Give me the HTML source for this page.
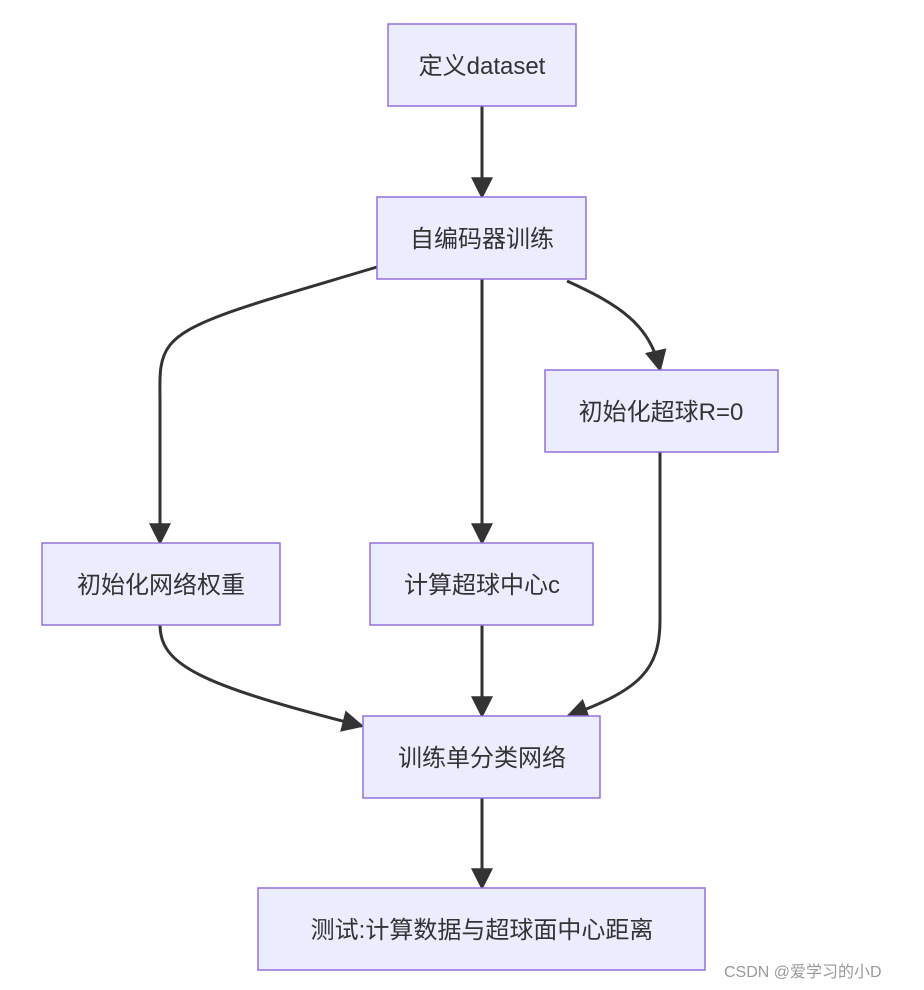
<!DOCTYPE html>
<html><head><meta charset="utf-8"><style>
body{margin:0;background:#fff;width:924px;height:990px;overflow:hidden}
svg{display:block}
text{font-family:"Liberation Sans","Noto Sans CJK SC",sans-serif;fill:#333;font-size:24px}
rect{fill:#ECECFF;stroke:#9370DB;stroke-width:1.5}
path.e{fill:none;stroke:#333;stroke-width:3}
</style></head><body>
<svg width="924" height="990" viewBox="0 0 924 990">
<defs><marker id="a" viewBox="0 0 10 10" refX="9" refY="5" markerWidth="7" markerHeight="7" markerUnits="userSpaceOnUse" orient="auto"><path d="M0,0L10,5L0,10z" fill="#333"/></marker>
<marker id="b" viewBox="0 0 10 10" refX="9" refY="5" markerUnits="userSpaceOnUse" markerWidth="22" markerHeight="22" orient="auto"><path d="M0,0L10,5L0,10z" fill="#333"/></marker></defs>
<path class="e" marker-end="url(#b)" d="M482,106L482,197"/>
<path class="e" marker-end="url(#b)" d="M377,267C250,305 190,320 170,345C158,360 160,380 160,400L160,543"/>
<path class="e" marker-end="url(#b)" d="M482,279L482,543"/>
<path class="e" marker-end="url(#b)" d="M567,281C620,305 650,325 660,370"/>
<path class="e" marker-end="url(#b)" d="M660,452L660,620C660,670 640,690 568,716"/>
<path class="e" marker-end="url(#b)" d="M160,625C160,665 200,685 362,726"/>
<path class="e" marker-end="url(#b)" d="M482,625L482,716"/>
<path class="e" marker-end="url(#b)" d="M482,798L482,888"/>
<rect x="388" y="24" width="188" height="82"/><text x="482" y="74" text-anchor="middle">定义dataset</text>
<rect x="377" y="197" width="209" height="82"/><text x="482" y="247" text-anchor="middle">自编码器训练</text>
<rect x="545" y="370" width="233" height="82"/><text x="661" y="420" text-anchor="middle">初始化超球R=0</text>
<rect x="42" y="543" width="238" height="82"/><text x="161" y="593" text-anchor="middle">初始化网络权重</text>
<rect x="370" y="543" width="223" height="82"/><text x="482" y="593" text-anchor="middle">计算超球中心c</text>
<rect x="363" y="716" width="237" height="82"/><text x="482" y="766" text-anchor="middle">训练单分类网络</text>
<rect x="258" y="888" width="447" height="82"/><text x="482" y="938" text-anchor="middle">测试:计算数据与超球面中心距离</text>
<text x="724" y="977" style="font-size:16px;fill:#999">CSDN @爱学习的小D</text>
</svg>
</body></html>
